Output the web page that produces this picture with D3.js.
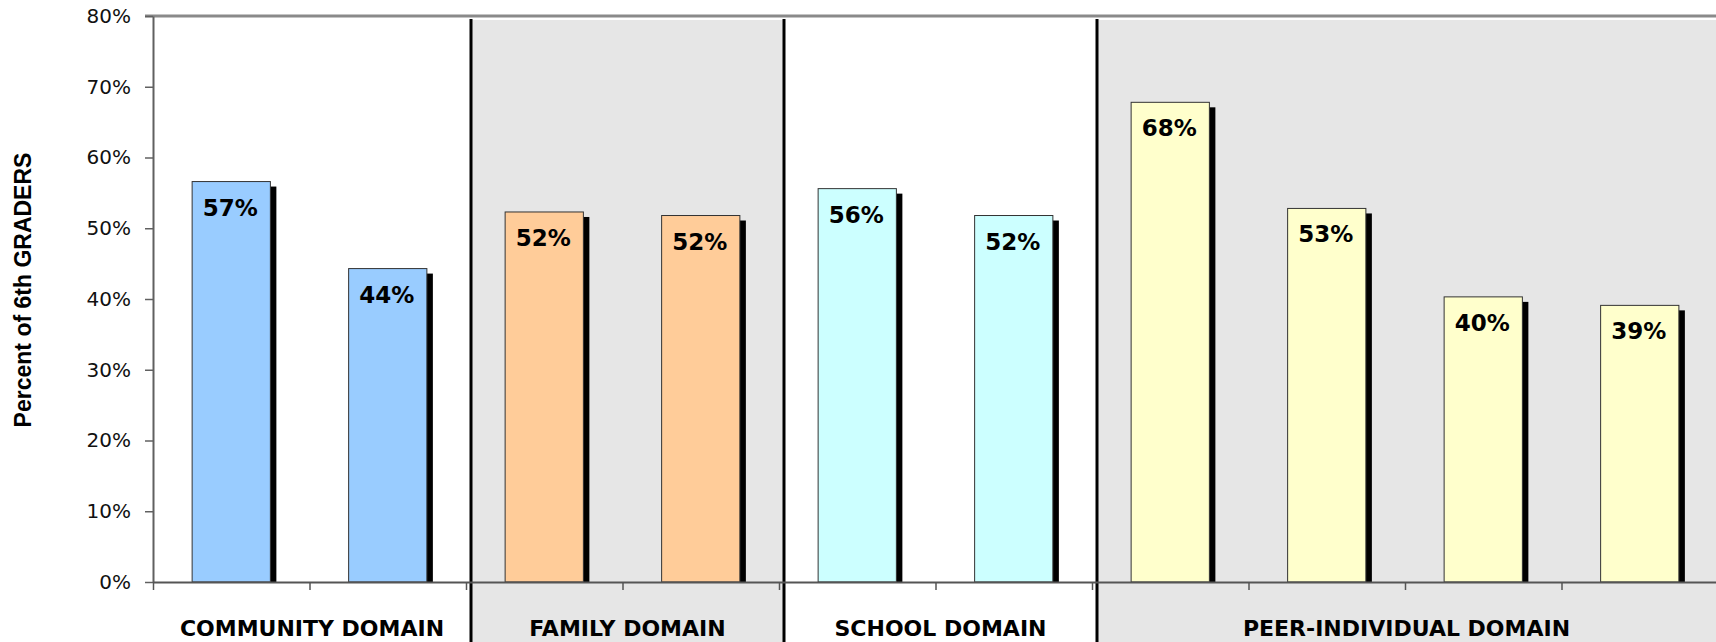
<!DOCTYPE html>
<html>
<head>
<meta charset="utf-8">
<script src="https://cdn.jsdelivr.net/npm/d3@7"></script>
<style>
  body { margin: 0; background: #fff; }
  svg { display: block; }
</style>
</head>
<body>
<svg id="chart"></svg>
<script>
// Chart data
const categories = ["Community 1", "Community 2", "Family 1", "Family 2", "School 1", "School 2",
    "Peer 1", "Peer 2", "Peer 3", "Peer 4"];
const values = [56.6, 44.3, 52.3, 51.8, 55.6, 51.8, 67.8, 52.8, 40.3, 39.1];
const domainOf = [0, 0, 1, 1, 2, 2, 3, 3, 3, 3];
const domainNames = ["COMMUNITY DOMAIN", "FAMILY DOMAIN", "SCHOOL DOMAIN", "PEER-INDIVIDUAL DOMAIN"];
const domainColors = ["#99ccff", "#ffcc99", "#ccffff", "#ffffcc"];
const domainShaded = [false, true, false, true];
const yTicks = [0, 10, 20, 30, 40, 50, 60, 70, 80];

const width = 1716, height = 642;
const margin = { top: 16, left: 153 };
const plotRight = 1718, plotBottom = 582;

const svg = d3.select("#chart").attr("width", width).attr("height", height);

// Scales
const y = d3.scaleLinear().domain([0, 80]).range([plotBottom, margin.top]);
const x = d3.scaleBand().domain(categories).range([margin.left, plotRight]);
const xi = d3.scaleLinear().domain([0, categories.length]).range([margin.left, plotRight]);
const barW = x.bandwidth() * 0.5;

// domain extents (by category index)
const domainSpans = domainNames.map((name, k) => {
    const first = domainOf.indexOf(k);
    const start = k === 0 ? xi(first) : xi(first) + 5;
    const nextFirst = domainOf.indexOf(k + 1);
    const end = nextFirst < 0 ? width : xi(nextFirst) + 5;
    return { name: name, start: start, end: end, shaded: domainShaded[k] };
});

// Shaded domain backgrounds
svg.append("g")
    .selectAll("rect")
    .data(domainSpans.filter((d) => d.shaded))
    .enter()
    .append("rect")
    .attr("x", (d) => d.start)
    .attr("y", y(80) + 4)
    .attr("width", (d) => d.end - d.start)
    .attr("height", height - y(80) - 4)
    .attr("fill", "#e6e6e6");

// Top border of plot area
svg.append("line")
    .attr("x1", margin.left - 8)
    .attr("x2", width)
    .attr("y1", y(80))
    .attr("y2", y(80))
    .attr("stroke", "#8a8a8a")
    .attr("stroke-width", 3);

// Y axis
const yAxis = svg.append("g")
    .attr("transform", "translate(" + margin.left + ",0)")
    .call(d3.axisLeft(y).tickValues(yTicks).tickSize(8).tickSizeOuter(0).tickPadding(14)
        .tickFormat((d) => d + "%"));
yAxis.select(".domain").attr("stroke", "#606060").attr("stroke-width", 2);
yAxis.selectAll(".tick line").attr("stroke", "#606060").attr("stroke-width", 1.5);
yAxis.selectAll("text")
    .attr("font-family", "DejaVu Sans, Verdana, sans-serif")
    .attr("font-size", "20px")
    .attr("fill", "#111");

// Bar shadows
svg.append("g")
    .selectAll("rect")
    .data(values)
    .enter()
    .append("rect")
    .attr("x", (d, i) => x(categories[i]) + (x.bandwidth() - barW) / 2 + 6)
    .attr("y", (d) => y(d) + 5)
    .attr("width", barW)
    .attr("height", (d) => y(0) - y(d) - 5)
    .attr("fill", "#000");

// Bars
svg.append("g")
    .selectAll("rect")
    .data(values)
    .enter()
    .append("rect")
    .attr("x", (d, i) => x(categories[i]) + (x.bandwidth() - barW) / 2)
    .attr("y", (d) => y(d))
    .attr("width", barW)
    .attr("height", (d) => y(0) - y(d))
    .attr("fill", (d, i) => domainColors[domainOf[i]])
    .attr("stroke", "#333")
    .attr("stroke-width", 1);

// Value labels
svg.append("g")
    .selectAll("text")
    .data(values)
    .enter()
    .append("text")
    .attr("x", (d, i) => x(categories[i]) + x.bandwidth() / 2 - 1)
    .attr("y", (d) => y(d) + 34)
    .attr("text-anchor", "middle")
    .attr("font-family", "DejaVu Sans, Verdana, sans-serif")
    .attr("font-weight", "bold")
    .attr("font-size", "23px")
    .attr("fill", "#000")
    .text((d) => Math.round(d) + "%");

// Domain separators
svg.append("g")
    .selectAll("line")
    .data(domainSpans.slice(1))
    .enter()
    .append("line")
    .attr("x1", (d) => d.start)
    .attr("x2", (d) => d.start)
    .attr("y1", y(80) + 3)
    .attr("y2", height)
    .attr("stroke", "#000")
    .attr("stroke-width", 3);

// X axis with ticks between categories
const xAxis = svg.append("g")
    .attr("transform", "translate(0," + plotBottom + ")")
    .call(d3.axisBottom(xi).tickValues(d3.range(0, categories.length + 1)).tickSize(8)
        .tickSizeOuter(0).tickFormat(""));
xAxis.select(".domain").attr("stroke", "#555").attr("stroke-width", 2);
xAxis.selectAll(".tick line").attr("stroke", "#555").attr("stroke-width", 1.5);

// Domain labels
svg.append("g")
    .selectAll("text")
    .data(domainSpans)
    .enter()
    .append("text")
    .attr("x", (d) => (d.start + d.end) / 2)
    .attr("y", 636)
    .attr("text-anchor", "middle")
    .attr("font-family", "DejaVu Sans, Verdana, sans-serif")
    .attr("font-weight", "bold")
    .attr("font-size", "22px")
    .attr("fill", "#000")
    .text((d) => d.name);

// Y axis title
svg.append("text")
    .attr("transform", "translate(31," + 290 + ") rotate(-90)")
    .attr("text-anchor", "middle")
    .attr("font-family", "Liberation Sans, Arial, sans-serif")
    .attr("font-weight", "bold")
    .attr("font-size", "23px")
    .attr("fill", "#000")
    .text("Percent of 6th GRADERS");
</script>
</body>
</html>
